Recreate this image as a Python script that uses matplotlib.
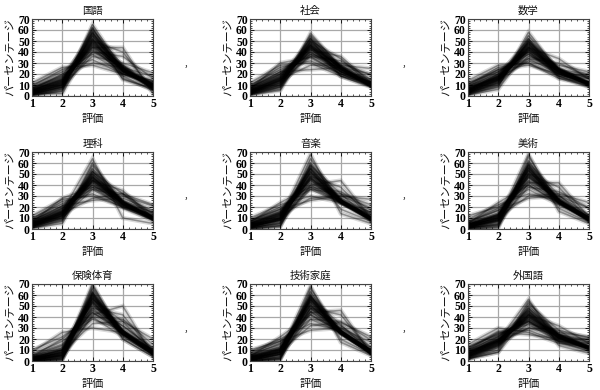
import matplotlib
matplotlib.use("Agg")
import matplotlib.pyplot as plt
from matplotlib.ticker import MultipleLocator

plt.rcParams['font.family'] = ['Noto Sans CJK JP', 'DejaVu Sans']

grades = [1, 2, 3, 4, 5]

# each row: percentage of students at grade 1..5 for one school
kokugo = [
    (3, 10, 52, 27, 8), (5, 13, 48, 25, 9), (2, 8, 58, 24, 8), (6, 15, 45, 24, 10),
    (4, 12, 50, 22, 12), (1, 6, 62, 22, 9), (8, 18, 42, 22, 10), (3, 11, 55, 23, 8),
    (5, 14, 47, 26, 8), (2, 9, 56, 25, 8), (7, 17, 44, 20, 12), (4, 12, 51, 24, 9),
    (0, 5, 65, 24, 6), (10, 22, 38, 20, 10), (3, 10, 54, 25, 8), (6, 14, 46, 23, 11),
    (2, 8, 57, 26, 7), (5, 16, 40, 28, 11), (1, 4, 60, 28, 7), (9, 24, 33, 20, 14),
    (4, 13, 49, 24, 10), (3, 2, 50, 40, 5), (12, 26, 28, 20, 14), (6, 20, 30, 26, 18),
    (2, 8, 44, 44, 2), (3, 10, 36, 30, 21), (5, 15, 58, 15, 7), (7, 19, 52, 16, 6),
    (1, 7, 40, 36, 16), (4, 11, 62, 18, 5),
]
shakai = [
    (4, 15, 46, 25, 10), (3, 12, 50, 24, 11), (6, 18, 42, 24, 10), (2, 10, 52, 26, 10),
    (5, 16, 44, 23, 12), (3, 14, 48, 25, 10), (8, 20, 40, 22, 10), (1, 8, 55, 27, 9),
    (4, 13, 47, 26, 10), (7, 22, 38, 22, 11), (2, 9, 53, 26, 10), (5, 17, 45, 22, 11),
    (3, 11, 49, 27, 10), (10, 24, 36, 20, 10), (4, 14, 46, 25, 11), (6, 19, 43, 22, 10),
    (2, 6, 57, 26, 9), (9, 26, 32, 20, 13), (3, 12, 44, 28, 13), (5, 16, 40, 24, 15),
    (12, 28, 30, 18, 12), (1, 5, 50, 34, 10), (7, 20, 46, 18, 9), (3, 10, 38, 30, 19),
    (4, 15, 28, 28, 25), (6, 30, 35, 20, 9), (2, 8, 42, 36, 12), (8, 22, 24, 26, 20),
    (5, 17, 52, 18, 8), (3, 14, 36, 32, 15),
]
sugaku = [
    (5, 16, 45, 23, 11), (3, 14, 48, 24, 11), (7, 18, 42, 22, 11), (2, 12, 50, 24, 12),
    (6, 17, 44, 22, 11), (4, 15, 47, 23, 11), (9, 20, 40, 20, 11), (2, 10, 52, 25, 11),
    (5, 16, 44, 24, 11), (8, 22, 38, 20, 12), (3, 13, 49, 24, 11), (6, 18, 43, 22, 11),
    (1, 9, 55, 24, 11), (11, 24, 34, 20, 11), (4, 15, 46, 23, 12), (7, 19, 41, 21, 12),
    (3, 12, 50, 25, 10), (10, 26, 30, 18, 16), (4, 14, 42, 24, 16), (6, 17, 38, 22, 17),
    (14, 28, 30, 16, 12), (2, 8, 58, 22, 10), (5, 20, 48, 18, 9), (3, 11, 36, 28, 22),
    (8, 16, 32, 24, 20), (12, 22, 40, 18, 8), (1, 6, 44, 34, 15), (9, 24, 28, 20, 19),
    (5, 18, 52, 16, 9), (4, 15, 34, 30, 17),
]
rika = [
    (4, 14, 48, 24, 10), (3, 12, 52, 23, 10), (6, 17, 44, 23, 10), (2, 10, 55, 24, 9),
    (5, 15, 46, 24, 10), (3, 13, 50, 24, 10), (8, 19, 42, 21, 10), (1, 8, 58, 24, 9),
    (4, 14, 47, 25, 10), (7, 21, 40, 22, 10), (2, 11, 53, 24, 10), (5, 16, 45, 23, 11),
    (3, 12, 50, 25, 10), (10, 23, 36, 21, 10), (4, 15, 47, 24, 10), (6, 18, 43, 23, 10),
    (1, 7, 60, 23, 9), (9, 25, 32, 20, 14), (3, 12, 44, 26, 15), (5, 16, 40, 24, 15),
    (12, 27, 30, 20, 11), (1, 5, 52, 32, 10), (6, 19, 48, 19, 8), (3, 10, 36, 30, 21),
    (4, 14, 28, 32, 22), (6, 28, 38, 20, 8), (2, 9, 44, 35, 10), (8, 21, 26, 28, 17),
    (5, 16, 64, 10, 5), (3, 13, 38, 32, 14),
]
ongaku = [
    (3, 10, 52, 26, 9), (2, 8, 56, 25, 9), (5, 14, 46, 25, 10), (1, 5, 60, 25, 9),
    (4, 12, 50, 24, 10), (2, 9, 54, 26, 9), (6, 16, 44, 24, 10), (0, 3, 64, 25, 8),
    (3, 11, 51, 26, 9), (5, 15, 45, 25, 10), (1, 6, 58, 27, 8), (4, 13, 48, 25, 10),
    (2, 8, 55, 26, 9), (8, 18, 40, 24, 10), (3, 10, 52, 25, 10), (5, 14, 47, 24, 10),
    (0, 2, 58, 32, 8), (7, 20, 36, 24, 13), (2, 9, 46, 28, 15), (4, 13, 42, 26, 15),
    (10, 22, 30, 24, 14), (1, 3, 48, 38, 10), (5, 15, 55, 18, 7), (2, 8, 36, 32, 22),
    (3, 12, 28, 30, 27), (6, 24, 38, 24, 8), (1, 5, 40, 44, 10), (7, 18, 26, 30, 19),
    (3, 10, 68, 14, 5), (2, 9, 38, 34, 17),
]
bijutsu = [
    (2, 9, 55, 25, 9), (1, 7, 58, 25, 9), (4, 12, 50, 25, 9), (1, 4, 62, 25, 8),
    (3, 10, 53, 25, 9), (2, 8, 56, 26, 8), (5, 14, 47, 25, 9), (0, 2, 66, 24, 8),
    (3, 10, 53, 25, 9), (4, 13, 48, 26, 9), (1, 5, 59, 27, 8), (3, 11, 51, 26, 9),
    (2, 8, 56, 26, 8), (7, 17, 43, 24, 9), (3, 10, 54, 24, 9), (4, 13, 49, 25, 9),
    (0, 1, 60, 31, 8), (6, 19, 40, 24, 11), (2, 8, 47, 30, 13), (4, 12, 44, 28, 12),
    (9, 22, 32, 26, 11), (1, 3, 50, 38, 8), (4, 13, 58, 19, 6), (2, 7, 38, 34, 19),
    (3, 11, 30, 32, 24), (5, 24, 40, 23, 8), (1, 4, 42, 42, 11), (6, 17, 28, 30, 19),
    (2, 9, 68, 16, 5), (12, 20, 36, 22, 10),
]
hoken = [
    (1, 6, 60, 25, 8), (1, 4, 63, 25, 7), (3, 10, 54, 25, 8), (0, 2, 66, 25, 7),
    (2, 8, 57, 25, 8), (1, 5, 61, 26, 7), (4, 12, 52, 24, 8), (0, 1, 68, 25, 6),
    (2, 7, 58, 26, 7), (3, 10, 54, 26, 7), (0, 3, 62, 28, 7), (2, 8, 56, 26, 8),
    (1, 5, 60, 27, 7), (5, 15, 48, 24, 8), (2, 7, 58, 26, 7), (3, 10, 53, 26, 8),
    (0, 1, 56, 36, 7), (4, 14, 44, 28, 10), (1, 5, 50, 32, 12), (2, 9, 46, 32, 11),
    (6, 18, 38, 28, 10), (0, 2, 48, 42, 8), (3, 11, 62, 20, 4), (1, 6, 40, 38, 15),
    (2, 8, 34, 36, 20), (4, 20, 44, 26, 6), (0, 3, 42, 50, 5), (8, 26, 30, 26, 10),
    (1, 5, 70, 20, 4), (10, 22, 40, 22, 6),
]
gijutsu = [
    (2, 8, 56, 26, 8), (1, 6, 59, 26, 8), (4, 11, 51, 26, 8), (0, 3, 63, 26, 8),
    (3, 9, 54, 26, 8), (2, 7, 57, 26, 8), (5, 13, 48, 25, 9), (0, 2, 66, 25, 7),
    (2, 8, 55, 27, 8), (4, 12, 50, 26, 8), (1, 4, 60, 27, 8), (3, 10, 53, 26, 8),
    (1, 6, 58, 27, 8), (6, 15, 45, 25, 9), (2, 8, 56, 26, 8), (4, 11, 51, 26, 8),
    (0, 1, 58, 33, 8), (5, 16, 42, 27, 10), (1, 6, 48, 32, 13), (3, 10, 45, 30, 12),
    (8, 20, 34, 28, 10), (0, 2, 48, 42, 8), (3, 11, 60, 20, 6), (1, 6, 38, 36, 19),
    (2, 9, 32, 35, 22), (4, 22, 42, 26, 6), (0, 3, 44, 46, 7), (7, 18, 28, 30, 17),
    (2, 8, 68, 17, 5), (10, 18, 38, 26, 8),
]
gaikokugo = [
    (6, 18, 42, 22, 12), (4, 16, 45, 23, 12), (8, 20, 39, 21, 12), (3, 14, 48, 23, 12),
    (7, 19, 41, 21, 12), (5, 17, 44, 22, 12), (10, 22, 37, 19, 12), (2, 12, 50, 24, 12),
    (6, 18, 42, 22, 12), (9, 23, 36, 20, 12), (4, 15, 46, 23, 12), (7, 19, 40, 22, 12),
    (3, 13, 48, 24, 12), (12, 25, 33, 18, 12), (5, 17, 43, 22, 13), (8, 20, 38, 21, 13),
    (2, 10, 54, 23, 11), (11, 27, 28, 18, 16), (4, 15, 40, 24, 17), (7, 19, 36, 22, 16),
    (15, 30, 26, 16, 13), (2, 8, 52, 28, 10), (6, 22, 46, 17, 9), (4, 14, 34, 26, 22),
    (9, 18, 30, 24, 19), (13, 24, 36, 18, 9), (2, 8, 42, 32, 16), (10, 26, 24, 20, 20),
    (5, 18, 56, 14, 7), (5, 16, 30, 28, 21),
]

subjects = ["国語", "社会", "数学", "理科", "音楽", "美術", "保険体育", "技術家庭", "外国語"]
all_data = [kokugo, shakai, sugaku, rika, ongaku, bijutsu, hoken, gijutsu, gaikokugo]

W, H = 600, 390
fig = plt.figure(figsize=(6, 3.9), dpi=100)

col_left = [32, 250, 468]
row_top = [19, 152, 284]
aw, ah = 121, 77

for k, (name, data) in enumerate(zip(subjects, all_data)):
    r, c = divmod(k, 3)
    x0, y0 = col_left[c], row_top[r]
    ax = fig.add_axes([x0 / W, 1 - (y0 + ah) / H, aw / W, ah / H])
    for row in data:
        # wide soft stroke plus a thin darker core, like many overlapping schools
        ax.plot(grades, row, color="black", alpha=0.14, lw=3.2, solid_joinstyle="miter")
        ax.plot(grades, row, color="black", alpha=0.35, lw=1.1)
    ax.set_xlim(1, 5)
    ax.set_ylim(0, 70)
    ax.xaxis.set_major_locator(MultipleLocator(1))
    ax.xaxis.set_minor_locator(MultipleLocator(0.2))
    ax.yaxis.set_major_locator(MultipleLocator(10))
    ax.yaxis.set_minor_locator(MultipleLocator(2))
    ax.grid(True, which="major", color="#a8a8a8", lw=0.9)
    ax.set_axisbelow(True)
    ax.tick_params(which="both", direction="in", top=True, right=True, pad=1.5)
    ax.tick_params(which="major", length=3, width=0.6)
    ax.tick_params(which="minor", length=1.5, width=0.5)
    for lab in ax.get_xticklabels() + ax.get_yticklabels():
        lab.set_fontfamily("Liberation Serif")
        lab.set_fontweight("bold")
        lab.set_fontsize(8.5)
    for sp in ax.spines.values():
        sp.set_color("#444444")
        sp.set_linewidth(0.8)
    ax.text(0.5, 1 + 8 / ah, name, transform=ax.transAxes, ha="center",
            va="center", fontsize=7.5, color="#111111")
    ax.text(0.5, -23 / ah, "評価", transform=ax.transAxes, ha="center",
            va="center", fontsize=8, color="#111111")
    ax.text(-23 / aw, 0.5, "パーセンテージ", transform=ax.transAxes, ha="center",
            va="center", rotation=90, fontsize=8, color="#111111")

# separators between the panels
for cx in [186, 404]:
    for cy in [63, 195, 328]:
        fig.text(cx / W, 1 - cy / H, ",", fontsize=7, ha="center", va="center")

fig.savefig("out.png", dpi=100)
